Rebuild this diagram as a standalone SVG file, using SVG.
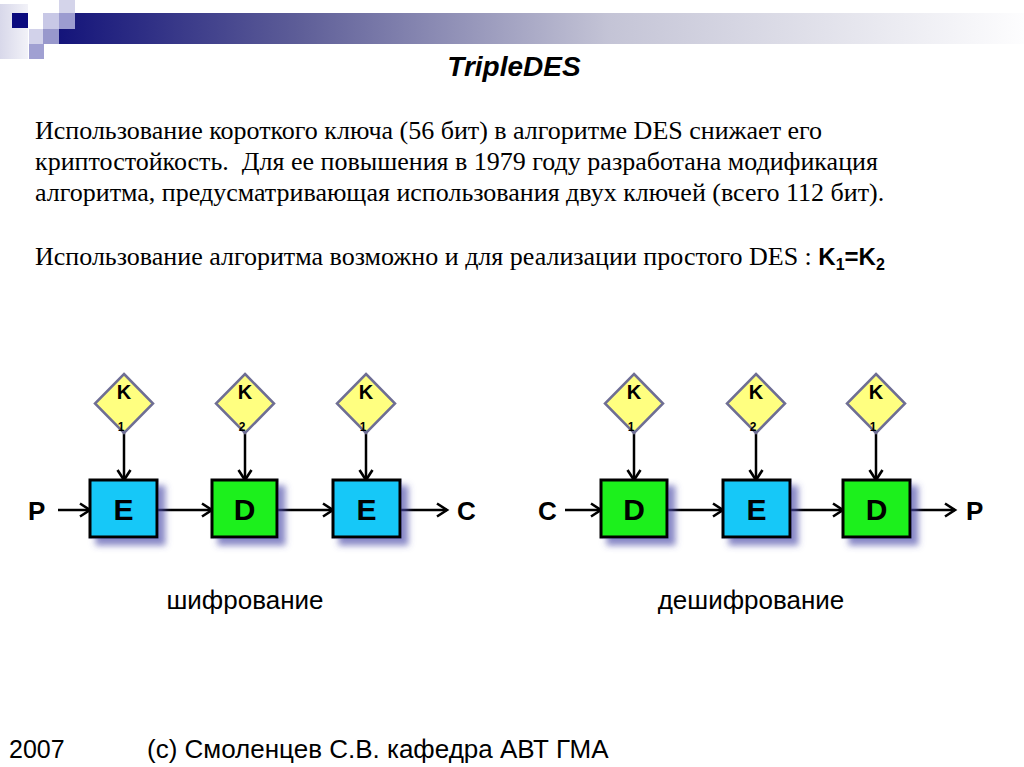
<svg xmlns="http://www.w3.org/2000/svg" width="1024" height="767" viewBox="0 0 1024 767">
<defs>
<linearGradient id="bar" x1="0" y1="0" x2="1" y2="0">
<stop offset="0" stop-color="#14147a"/>
<stop offset="0.25" stop-color="#5e5e98"/>
<stop offset="0.57" stop-color="#c4c4d6"/>
<stop offset="1" stop-color="#fdfdfe"/>
</linearGradient>
<linearGradient id="fade" x1="0" y1="0" x2="1" y2="0">
<stop offset="0" stop-color="#d8d8ea"/>
<stop offset="1" stop-color="#f2f2f8"/>
</linearGradient>
<filter id="sh" x="-20%" y="-20%" width="150%" height="150%">
<feDropShadow dx="7" dy="7" stdDeviation="3" flood-color="#4a4aa8" flood-opacity="0.65"/>
</filter>
<marker id="arr" markerWidth="16" markerHeight="16" refX="12" refY="8" orient="auto" markerUnits="userSpaceOnUse">
<path d="M2,1.5 L12,8 L2,14.5" fill="none" stroke="#000" stroke-width="2.6" stroke-linejoin="miter"/>
</marker>
<style>
.body{font-family:"Liberation Serif","Times New Roman",serif;font-size:26px;fill:#000}
.sans{font-family:"Liberation Sans",Arial,sans-serif;fill:#000}
.box{stroke:#000;stroke-width:3;filter:url(#sh)}
.enc{fill:#18c8f8}
.dec{fill:#1ef01e}
.key{fill:#ffff80;stroke:#6e6e94;stroke-width:2.5}
.bl{font-family:"Liberation Sans",Arial,sans-serif;font-weight:bold;font-size:30px;text-anchor:middle;fill:#000}
.kl{font-family:"Liberation Sans",Arial,sans-serif;font-weight:bold;font-size:20px;text-anchor:middle;fill:#000}
.ks{font-family:"Liberation Sans",Arial,sans-serif;font-weight:bold;font-size:12px;text-anchor:middle;fill:#000}
.io{font-family:"Liberation Sans",Arial,sans-serif;font-weight:bold;font-size:26px;fill:#000}
.con{stroke:#000;stroke-width:2.5;fill:none;marker-end:url(#arr)}
</style>
</defs>
<rect width="1024" height="767" fill="#fff"/>
<g id="header">
<rect x="0" y="4" width="28" height="55" fill="url(#fade)"/>
<rect x="12" y="13" width="16" height="15" fill="#0a0a7e"/>
<rect x="59" y="13" width="965" height="31" fill="url(#bar)"/>
<rect x="43" y="13" width="16" height="16" fill="#c8c8e6"/>
<rect x="59" y="0" width="16" height="13" fill="#d4d4ea"/>
<rect x="59" y="13" width="16" height="16" fill="#9c9cd0"/>
<rect x="29" y="29" width="14" height="15" fill="#d2d2ea"/>
<rect x="43" y="29" width="16" height="15" fill="#9898cc"/>
<rect x="29" y="44" width="15" height="15" fill="#a0a0d2"/>
</g>
<text x="514" y="76" class="sans" font-size="28" font-weight="bold" font-style="italic" text-anchor="middle">TripleDES</text>
<g id="paragraph">
<text x="35" y="139" class="body">Использование короткого ключа (56 бит) в алгоритме DES снижает его</text>
<text x="35" y="170" class="body" xml:space="preserve">криптостойкость.  Для ее повышения в 1979 году разработана модификация</text>
<text x="35" y="201" class="body">алгоритма, предусматривающая использования двух ключей (всего 112 бит).</text>
<text x="35" y="265" class="body">Использование алгоритма возможно и для реализации простого DES : <tspan class="sans" font-weight="bold" font-size="24">K</tspan><tspan class="sans" font-weight="bold" font-size="16" dy="5">1</tspan><tspan class="sans" font-weight="bold" font-size="24" dy="-5">=K</tspan><tspan class="sans" font-weight="bold" font-size="16" dy="5">2</tspan></text>
</g>
<g id="connectors">
<line x1="58" y1="510" x2="90" y2="510" class="con"/>
<line x1="157" y1="510" x2="212" y2="510" class="con"/>
<line x1="277" y1="510" x2="333" y2="510" class="con"/>
<line x1="400" y1="510" x2="447" y2="510" class="con"/>
<line x1="124" y1="433" x2="124" y2="480" class="con"/>
<line x1="245" y1="433" x2="245" y2="480" class="con"/>
<line x1="366" y1="433" x2="366" y2="480" class="con"/>
<line x1="565" y1="510" x2="601" y2="510" class="con"/>
<line x1="667" y1="510" x2="723" y2="510" class="con"/>
<line x1="790" y1="510" x2="843" y2="510" class="con"/>
<line x1="910" y1="510" x2="955" y2="510" class="con"/>
<line x1="634" y1="433" x2="634" y2="480" class="con"/>
<line x1="756" y1="433" x2="756" y2="480" class="con"/>
<line x1="876" y1="433" x2="876" y2="480" class="con"/>
</g>
<g id="enc-P"><text x="28" y="520" class="io">P</text></g>
<g id="enc-C"><text x="457" y="520" class="io">C</text></g>
<g id="dec-C"><text x="538" y="520" class="io">C</text></g>
<g id="dec-P"><text x="966" y="520" class="io">P</text></g>
<g id="enc-k1"><polygon points="124,374 153,403.5 124,433 95,403.5" class="key"/><text x="124" y="399" class="kl">K</text><text x="121" y="431" class="ks">1</text></g>
<g id="enc-k2"><polygon points="245,374 274,403.5 245,433 216,403.5" class="key"/><text x="245" y="399" class="kl">K</text><text x="242" y="431" class="ks">2</text></g>
<g id="enc-k3"><polygon points="366,374 395,403.5 366,433 337,403.5" class="key"/><text x="366" y="399" class="kl">K</text><text x="363" y="431" class="ks">1</text></g>
<g id="dec-k1"><polygon points="634,374 663,403.5 634,433 605,403.5" class="key"/><text x="634" y="399" class="kl">K</text><text x="631" y="431" class="ks">1</text></g>
<g id="dec-k2"><polygon points="756,374 785,403.5 756,433 727,403.5" class="key"/><text x="756" y="399" class="kl">K</text><text x="753" y="431" class="ks">2</text></g>
<g id="dec-k3"><polygon points="876,374 905,403.5 876,433 847,403.5" class="key"/><text x="876" y="399" class="kl">K</text><text x="873" y="431" class="ks">1</text></g>
<g id="enc-E1"><rect x="90" y="480" width="67" height="57" class="box enc"/><text x="123.5" y="520" class="bl">E</text></g>
<g id="enc-D"><rect x="212" y="480" width="65" height="57" class="box dec"/><text x="244.5" y="520" class="bl">D</text></g>
<g id="enc-E2"><rect x="333" y="480" width="67" height="57" class="box enc"/><text x="366.5" y="520" class="bl">E</text></g>
<g id="dec-D1"><rect x="601" y="480" width="66" height="57" class="box dec"/><text x="634" y="520" class="bl">D</text></g>
<g id="dec-E"><rect x="723" y="480" width="67" height="57" class="box enc"/><text x="756.5" y="520" class="bl">E</text></g>
<g id="dec-D2"><rect x="843" y="480" width="67" height="57" class="box dec"/><text x="876.5" y="520" class="bl">D</text></g>
<text x="245" y="609" class="sans" font-size="26" text-anchor="middle">шифрование</text>
<text x="751" y="609" class="sans" font-size="26" text-anchor="middle">дешифрование</text>
<g id="footer">
<text x="9" y="758" class="sans" font-size="25">2007</text>
<text x="147" y="758" class="sans" font-size="26">(c) Смоленцев С.В. кафедра АВТ ГМА</text>
</g>
</svg>
